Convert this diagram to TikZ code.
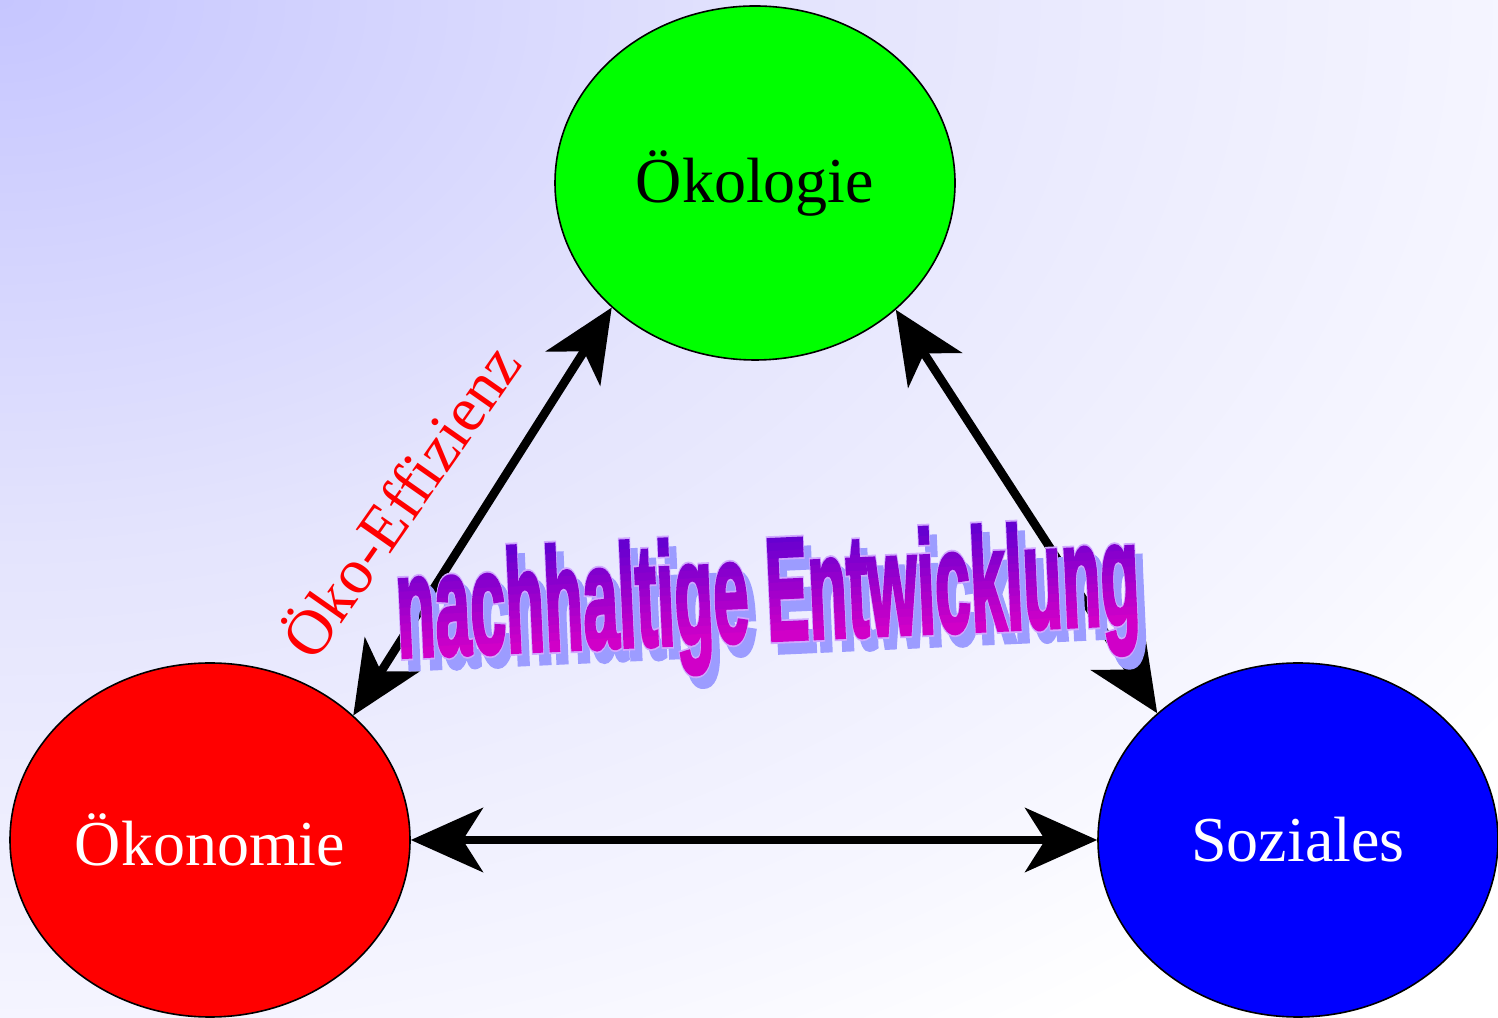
\documentclass[tikz,border=0pt]{standalone}
\usepackage{fontspec}
\usepackage{graphicx}
\setmainfont{Liberation Serif}
\newfontfamily\wordartfont[FakeBold=3]{Liberation Sans}
\newfontfamily\wordartrim[FakeBold=5.5]{Liberation Sans}
\usetikzlibrary{shapes.geometric,arrows.meta}

\definecolor{bgA}{HTML}{C6C6FF}
\definecolor{bgB}{HTML}{E4E4FD}
\definecolor{bgC}{HTML}{F6F6FF}
\definecolor{titletop}{HTML}{6600D0}
\definecolor{titlebot}{HTML}{D000C8}
\definecolor{shadowc}{HTML}{9C9CFF}
\definecolor{rimc}{HTML}{D0A8FF}

\pgfdeclareradialshading{bgglow}{\pgfpoint{0bp}{0bp}}{color(0bp)=(bgA); color(11bp)=(bgB); color(21bp)=(bgC); color(25bp)=(white); color(50bp)=(white)}

\newcommand{\leitbildtext}[1]{\scalebox{0.52}[1.19]{#1\bfseries\fontsize{61}{61}\selectfont nachhaltige Entwicklung}}

\tikzset{
  pillar/.style={ellipse, draw=black, line width=0.8pt, minimum width=200pt,
    minimum height=177pt, inner sep=0pt, font=\fontsize{32}{36}\selectfont},
  biarrow/.style={line width=4.3pt,
    {Stealth[length=36pt,width=32pt,inset=10pt]}-{Stealth[length=36pt,width=32pt,inset=10pt]}},
}

\begin{document}
\begin{tikzpicture}[x=0.5pt,y=0.5pt]
\useasboundingbox (0,0) rectangle (1498,1017);
% background
\begin{scope}
  \clip (0,0) rectangle (1498,1017);
  \fill[white] (0,0) rectangle (1498,1017);
  \shade[shading=bgglow] (0,1017) ellipse (1850 and 1250);
\end{scope}

% the three pillars
\node[pillar, fill={rgb,255:red,0;green,255;blue,0}] (oekologie) at (755,834) {Ökologie};
\node[pillar, fill={rgb,255:red,255;green,0;blue,0}, text=white] (oekonomie) at (210,177) {Ökonomie};
\node[pillar, fill={rgb,255:red,0;green,0;blue,255}, text=white] (soziales) at (1298,177) {Soziales};

\draw[biarrow] (oekonomie.41) -- (oekologie.221);
\draw[biarrow] (oekologie.318) -- (soziales.138);
\draw[biarrow] (oekonomie.east) -- (soziales.west);

\node[text=red, rotate=55, font=\fontsize{32}{36}\selectfont] (effizienz) at (398,518) {Öko-Effizienz};

% word art title
\begin{scope}[shift={(768,414)}, rotate=2.6, transform shape]
  \node[text=shadowc] (leitbildschatten) at (7,-11) {\leitbildtext{\wordartrim}};
  \node[text=rimc] (leitbildrand) at (0,0) {\leitbildtext{\wordartrim}};
  \foreach \i in {0,...,20} {
    \pgfmathsetmacro\pct{max(0,min(100,100*(\i-2)/12))}
    \begin{scope}
      \clip (-420,84-\i*8) rectangle (420,84-\i*8-8.6);
      \colorlet{bandc}{titlebot!\pct!titletop}
      \node[text=bandc] (leitbild) at (0,0) {\leitbildtext{\wordartfont}};
    \end{scope}
  }
\end{scope}
\end{tikzpicture}
\end{document}
